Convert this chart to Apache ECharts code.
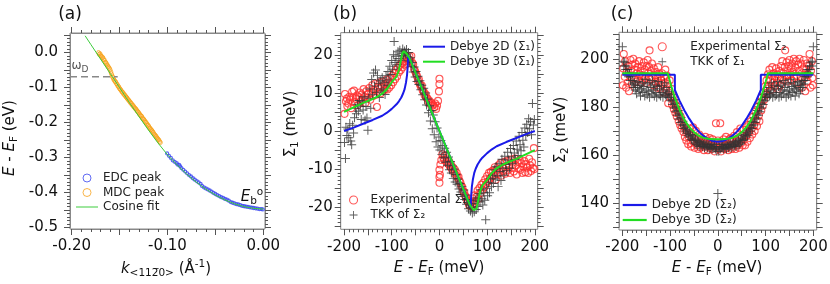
<!DOCTYPE html>
<html><head><meta charset="utf-8">
<script src="https://cdn.jsdelivr.net/npm/echarts/dist/echarts.min.js"></script>
<style>html,body{margin:0;padding:0;background:#fff}#c{width:830px;height:284px}</style>
</head><body><div id="c"></div>
<script>
// ---------- Panel (a) data ----------
const cosK = [-0.186,-0.18,-0.17,-0.16,-0.15,-0.14,-0.13,-0.12,-0.11,-0.10,-0.09,-0.08,-0.07,-0.06,-0.05,-0.04,-0.03,-0.02,-0.01,0.0];
const cosE = [0.047,0.022,-0.019,-0.060,-0.101,-0.143,-0.183,-0.222,-0.259,-0.293,-0.322,-0.348,-0.371,-0.391,-0.408,-0.422,-0.433,-0.441,-0.446,-0.448];
const omegaDLine = [[-0.2018,-0.07],[-0.152,-0.07]];
const mdcPeak = [[-0.1720,-0.001],[-0.1712,-0.006],[-0.1705,-0.004],[-0.1698,-0.010],[-0.1690,-0.011],[-0.1682,-0.016],[-0.1675,-0.015],[-0.1668,-0.021],[-0.1660,-0.022],[-0.1652,-0.028],[-0.1645,-0.029],[-0.1638,-0.033],[-0.1630,-0.036],[-0.1622,-0.040],[-0.1615,-0.043],[-0.1607,-0.046],[-0.1600,-0.050],[-0.1592,-0.056],[-0.1585,-0.062],[-0.1577,-0.068],[-0.1570,-0.072],[-0.1562,-0.077],[-0.1555,-0.080],[-0.1547,-0.084],[-0.1540,-0.085],[-0.1532,-0.090],[-0.1525,-0.092],[-0.1517,-0.097],[-0.1510,-0.098],[-0.1502,-0.103],[-0.1495,-0.105],[-0.1487,-0.108],[-0.1480,-0.111],[-0.1472,-0.114],[-0.1465,-0.115],[-0.1457,-0.120],[-0.1450,-0.121],[-0.1442,-0.124],[-0.1435,-0.127],[-0.1427,-0.129],[-0.1420,-0.132],[-0.1412,-0.135],[-0.1405,-0.137],[-0.1397,-0.140],[-0.1390,-0.142],[-0.1382,-0.146],[-0.1375,-0.147],[-0.1367,-0.151],[-0.1360,-0.152],[-0.1352,-0.156],[-0.1345,-0.158],[-0.1337,-0.161],[-0.1330,-0.162],[-0.1322,-0.166],[-0.1315,-0.168],[-0.1307,-0.171],[-0.1300,-0.173],[-0.1292,-0.177],[-0.1285,-0.179],[-0.1277,-0.182],[-0.1270,-0.183],[-0.1262,-0.188],[-0.1255,-0.190],[-0.1247,-0.192],[-0.1240,-0.195],[-0.1232,-0.199],[-0.1225,-0.200],[-0.1217,-0.204],[-0.1210,-0.207],[-0.1202,-0.209],[-0.1195,-0.212],[-0.1187,-0.216],[-0.1180,-0.218],[-0.1172,-0.221],[-0.1165,-0.223],[-0.1157,-0.226],[-0.1150,-0.229],[-0.1142,-0.233],[-0.1135,-0.235],[-0.1127,-0.238],[-0.1120,-0.240],[-0.1112,-0.244],[-0.1105,-0.246],[-0.1097,-0.249],[-0.1090,-0.251],[-0.1082,-0.255],[-0.1075,-0.258]];
const edcPeak = [[-0.1004,-0.289],[-0.0985,-0.296],[-0.0965,-0.302],[-0.0945,-0.309],[-0.0925,-0.313],[-0.0904,-0.317],[-0.0895,-0.321],[-0.0878,-0.322],[-0.0868,-0.326],[-0.0855,-0.331],[-0.0835,-0.336],[-0.0815,-0.341],[-0.0795,-0.346],[-0.0775,-0.351],[-0.0755,-0.355],[-0.0735,-0.360],[-0.0715,-0.364],[-0.0695,-0.368],[-0.0675,-0.372],[-0.0655,-0.376],[-0.064,-0.382],[-0.062,-0.386],[-0.060,-0.389],[-0.058,-0.392],[-0.056,-0.395],[-0.054,-0.398],[-0.052,-0.402],[-0.050,-0.405],[-0.048,-0.408],[-0.046,-0.411],[-0.044,-0.414],[-0.042,-0.416],[-0.040,-0.419],[-0.038,-0.421],[-0.036,-0.424],[-0.034,-0.428],[-0.032,-0.430],[-0.030,-0.432],[-0.028,-0.434],[-0.026,-0.435],[-0.024,-0.437],[-0.022,-0.439],[-0.020,-0.440],[-0.018,-0.441],[-0.016,-0.442],[-0.014,-0.443],[-0.012,-0.444],[-0.010,-0.445],[-0.008,-0.446],[-0.006,-0.447],[-0.004,-0.448],[-0.002,-0.448],[-0.0005,-0.449]];

// ---------- Panel (b) data ----------
const d2Dx = [-200,-180,-160,-140,-120,-110,-100,-90,-85,-80,-76,-73,-70,-68,-66.5,-65.5,65.5,66.5,68,70,73,76,80,85,90,100,110,120,140,160,180,200];
const d2Dy = [0,0.9,1.9,2.9,4.0,4.8,5.8,7.0,7.8,8.8,9.9,11.0,12.8,14.6,17.0,20.0,-20.0,-17.0,-14.6,-12.8,-11.0,-9.9,-8.8,-7.8,-7.0,-5.8,-4.8,-4.0,-2.9,-1.9,-0.9,0];
const d3Dx = [-200,-180,-160,-140,-130,-120,-110,-100,-90,-85,-80,-78,-75,-72,-69,-66,-63,63,66,69,72,75,78,80,85,90,100,110,120,130,140,160,180,200];
const d3Dy = [5.0,6.2,7.4,8.4,9.0,9.8,11.0,12.8,14.3,16.0,19.0,20.3,20.9,20.8,20.3,19.8,19.2,-19.2,-19.8,-20.3,-20.8,-20.9,-20.3,-19.0,-16.0,-14.3,-12.8,-11.0,-9.8,-9.0,-8.4,-7.4,-6.2,-5.0];
const expSigma1 = [[-199,4.5],[-198,9.7],[-196,7.8],[-194,8.5],[-193,6.5],[-191,7.2],[-189,9.0],[-187,8.2],[-185,6.0],[-183,10.3],[-181,8.8],[-179,10.6],[-177,7.5],[-175,8.4],[-173,9.3],[-171,6.8],[-169,8.9],[-167,10.1],[-165,7.7],[-163,9.6],[-161,8.3],[-159,11.0],[-157,9.0],[-155,7.4],[-153,10.5],[-151,8.6],[-149,9.8],[-147,11.3],[-145,8.2],[-143,10.0],[-141,12.0],[-139,9.2],[-137,10.8],[-135,12.4],[-133,9.5],[-131,6.3],[-129,11.5],[-127,10.3],[-125,12.8],[-123,9.9],[-121,11.6],[-119,13.0],[-117,10.6],[-115,12.2],[-113,11.0],[-111,13.5],[-109,10.9],[-107,12.7],[-105,11.4],[-103,13.9],[-101,12.0],[-99,14.5],[-97,12.8],[-95,15.2],[-93,13.6],[-91,16.0],[-89,14.3],[-87,16.6],[-85,15.4],[-83,17.3],[-81,16.0],[-79,17.8],[-77,16.7],[-75,18.2],[-73,17.4],[-71,18.9],[-69,17.6],[-67,19.3],[-65,18.3],[-63,19.6],[-61,18.5],[-59,19.7],[-57,17.9],[-55,17.5],[-53,16.2],[-51,15.7],[-49,15.0],[-47,14.4],[-45,13.2],[-43,13.5],[-41,12.3],[-39,11.6],[-37,11.9],[-35,10.6],[-33,10.3],[-31,9.4],[-29,9.6],[-27,8.7],[-25,8.5],[-23,7.6],[-21,7.9],[-19,7.0],[-17,7.4],[-15,6.6],[-13,6.9],[-11,6.2],[-9,7.2],[-7,5.8],[-5,6.6],[-3,7.9],[-1,10.4],[0,12.3],[0,13.7],[0,-10.2],[0,-12.1],[0,-13.6],[1,-11.5],[2,-8.8],[4,-7.6],[6,-6.1],[8,-6.9],[10,-7.5],[12,-6.4],[14,-8.0],[16,-7.2],[18,-8.6],[20,-7.9],[22,-9.3],[24,-8.7],[26,-10.0],[28,-9.5],[30,-10.7],[32,-10.1],[34,-11.5],[36,-11.0],[38,-12.3],[40,-12.0],[42,-13.1],[44,-13.6],[46,-14.4],[48,-14.8],[50,-15.8],[52,-16.0],[54,-17.0],[56,-17.4],[58,-18.3],[60,-18.6],[62,-19.4],[64,-19.7],[66,-18.8],[68,-19.9],[70,-17.7],[72,-19.2],[74,-16.9],[76,-18.4],[78,-17.2],[80,-15.6],[82,-17.8],[84,-15.0],[86,-16.3],[88,-14.1],[90,-15.5],[92,-13.6],[94,-14.8],[96,-12.7],[98,-13.9],[100,-11.8],[102,-13.2],[104,-11.0],[106,-12.5],[108,-10.7],[110,-12.0],[112,-10.4],[114,-11.6],[116,-9.5],[118,-12.8],[120,-10.1],[122,-11.3],[124,-9.0],[126,-10.8],[128,-8.4],[130,-11.7],[132,-9.6],[134,-10.5],[136,-8.1],[138,-11.2],[140,-9.3],[142,-7.8],[144,-10.3],[146,-8.9],[148,-11.0],[150,-7.5],[152,-9.7],[154,-8.3],[156,-10.6],[158,-7.2],[160,-9.1],[162,-11.4],[164,-8.0],[166,-9.9],[168,-7.6],[170,-10.2],[172,-8.5],[174,-11.0],[176,-9.4],[178,-7.9],[180,-10.8],[182,-8.7],[184,-9.6],[186,-11.0],[188,-7.3],[190,-9.0],[192,-10.5],[194,-8.2],[196,-9.7],[198,-4.5],[199,-10.0]];
const tkkSigma2 = [[-199,-3.0],[-197,-7.2],[-196,1.0],[-194,-1.2],[-192,0.5],[-190,-1.8],[-188,2.0],[-186,-2.6],[-184,-3.6],[-182,1.5],[-180,-0.5],[-178,3.5],[-176,6.0],[-174,4.5],[-172,7.0],[-170,5.2],[-168,8.0],[-166,6.5],[-164,3.0],[-162,7.8],[-160,5.5],[-158,9.0],[-156,2.8],[-154,6.4],[-152,3.4],[-150,0.2],[-148,8.6],[-146,11.0],[-144,6.0],[-142,13.5],[-140,9.5],[-138,15.2],[-136,11.8],[-134,16.0],[-132,10.2],[-130,14.6],[-128,12.5],[-126,8.8],[-124,13.2],[-122,11.0],[-120,14.0],[-118,10.5],[-116,12.8],[-114,9.6],[-112,14.5],[-110,12.0],[-108,15.6],[-106,13.4],[-104,17.0],[-102,14.8],[-100,18.5],[-98,16.2],[-96,20.0],[-95,23.5],[-93,18.0],[-91,19.6],[-89,17.4],[-87,20.8],[-85,19.0],[-83,21.2],[-81,18.6],[-79,20.4],[-77,21.5],[-75,19.8],[-73,21.0],[-71,20.2],[-69,21.4],[-67,19.5],[-65,20.6],[-63,18.4],[-61,19.2],[-59,17.0],[-57,18.0],[-55,15.5],[-53,16.8],[-51,14.2],[-49,15.6],[-47,13.0],[-45,14.4],[-43,12.2],[-41,13.2],[-39,10.8],[-37,12.0],[-35,9.5],[-33,11.2],[-31,8.2],[-29,10.0],[-27,6.8],[-25,8.4],[-23,4.8],[-21,6.6],[-19,2.6],[-17,5.4],[-15,0.6],[-13,4.2],[-11,-1.0],[-9,2.4],[-7,-2.8],[-5,0.8],[-3,-4.2],[-1,-1.6],[1,-5.0],[3,-2.5],[5,-6.2],[7,-3.8],[9,-7.0],[11,-4.5],[13,-8.2],[15,-5.6],[17,-9.0],[19,-6.8],[21,-10.2],[23,-8.0],[25,-11.0],[27,-9.2],[29,-12.5],[31,-10.0],[33,-13.4],[35,-11.4],[37,-14.0],[39,-12.6],[41,-15.2],[43,-13.8],[45,-16.0],[47,-14.6],[49,-17.2],[51,-15.5],[53,-18.0],[55,-16.8],[57,-19.2],[59,-18.0],[61,-20.4],[63,-19.4],[65,-21.0],[67,-20.0],[69,-21.5],[71,-19.0],[73,-21.2],[75,-18.2],[77,-20.6],[79,-17.6],[81,-19.8],[83,-16.5],[85,-18.6],[87,-15.4],[89,-17.8],[91,-19.4],[93,-16.2],[95,-18.2],[97,-23.3],[99,-15.0],[101,-17.0],[103,-13.6],[105,-16.2],[107,-12.4],[109,-14.6],[111,-11.6],[113,-13.8],[115,-10.2],[117,-12.6],[119,-9.4],[121,-11.8],[123,-14.6],[125,-8.6],[127,-10.6],[129,-13.0],[131,-7.4],[133,-9.8],[135,-11.6],[137,-6.6],[139,-8.8],[141,-10.4],[143,-5.6],[145,-7.6],[147,-9.8],[149,-4.6],[151,-6.8],[153,-8.6],[155,-3.8],[157,-5.8],[159,-7.4],[161,-2.6],[163,-4.8],[165,-6.4],[167,-1.4],[169,-3.6],[171,-5.2],[173,-0.4],[175,-2.4],[177,-4.2],[179,0.8],[181,-1.2],[183,1.8],[185,-0.4],[187,3.2],[189,0.6],[191,2.4],[193,-1.0],[195,7.2],[197,1.6],[199,3.0]];

// ---------- Panel (c) data ----------
const s2Dx = [-200,-90,-90,-80,-70,-60,-50,-40,-30,-20,-10,0,10,20,30,40,50,60,70,80,90,90,200];
const s2Dy = [193.3,193.3,187,182.5,178.5,175.1,172.1,169.7,167.9,166.6,165.8,165.5,165.8,166.6,167.9,169.7,172.1,175.1,178.5,182.5,187,193.3,193.3];
const s3Dx = [-200,-105,-100,-95,-90,-85,-80,-70,-60,-50,-40,-30,-20,-10,0,10,20,30,40,50,60,70,80,85,90,95,100,105,200];
const s3Dy = [194,194,190.3,186.9,183.8,181.1,178.7,174.6,171.6,169.5,168.0,167.1,166.7,166.5,166.5,166.5,166.7,167.1,168.0,169.5,171.6,174.6,178.7,181.1,183.8,186.9,190.3,194,194];
const expSigma2 = [[-199,189],[-198,196],[-197,202],[-195,192.5],[-194,199],[-192,188],[-191,194.5],[-189,190],[-188,197],[-186,186.5],[-185,193],[-183,199.5],[-182,195],[-180,189.5],[-179,197.5],[-177,200],[-176,192],[-174,195.5],[-173,198],[-171,190.5],[-170,194],[-168,196.5],[-167,191.5],[-165,199],[-164,193.5],[-162,195],[-161,190],[-159,197],[-158,193],[-156,191],[-155,198.5],[-153,195.5],[-152,192],[-150,190],[-149,197],[-147,199.5],[-146,194],[-144,196.5],[-143,203.5],[-141,191.5],[-140,195],[-138,198],[-137,192.5],[-135,189],[-134,196],[-132,193],[-131,190.5],[-129,194.5],[-128,188],[-126,192],[-125,196.5],[-123,190],[-122,193.5],[-120,187.5],[-119,191],[-117,194],[-116,189.5],[-114,186],[-113,192.5],[-111,190],[-110,195.5],[-108,187],[-107,193.0],[-105,189.5],[-104,181.5],[-102,186],[-101,191],[-99,184],[-97,187.5],[-96,181],[-94,184.5],[-92,179],[-91,182],[-89,177.5],[-87,180.5],[-86,176],[-84,178.5],[-82,174],[-81,177],[-79,172.5],[-77,175.5],[-76,171],[-74,173.5],[-72,169.5],[-71,172],[-69,167.5],[-67,170.5],[-66,166],[-64,169],[-62,164.5],[-61,167.5],[-59,171],[-57,165],[-56,163.5],[-54,168],[-52,171.5],[-51,165.5],[-49,163],[-47,167],[-46,170],[-44,164],[-42,166.5],[-41,162.5],[-39,168.5],[-37,165],[-36,163],[-34,167],[-32,164],[-31,166],[-29,162],[-27,165.5],[-26,167.5],[-24,163.5],[-22,166],[-21,162],[-19,164.5],[-17,167],[-16,163],[-14,165.5],[-12,162.5],[-11,166.5],[-9,164],[-7,161.5],[-6,165],[-4,173.2],[-2,163.5],[0,166],[2,162.5],[4,164.5],[5,173.2],[7,161.5],[9,165.5],[10,163],[12,166.5],[14,162.5],[15,164],[17,167.5],[19,163],[20,165],[22,162],[24,166.5],[25,164],[27,167],[29,162.5],[30,165.5],[32,163.5],[34,168],[35,164.5],[37,162.5],[39,166],[40,169.5],[42,164],[44,167],[45,163],[47,171],[49,165],[50,168],[52,164],[54,170.5],[55,166.5],[57,164],[59,171.5],[60,168],[62,165.5],[64,172.5],[65,169.5],[67,167],[69,174],[71,171],[72,168.5],[74,176],[76,172.5],[77,170],[79,178],[81,174.5],[82,172],[84,180],[86,176.5],[87,174],[89,182],[91,178.5],[92,184],[94,180.5],[96,186],[97,183],[99,188.5],[101,185],[102,191],[104,187.5],[105,193.5],[107,189],[108,195.5],[110,191],[111,187],[113,193],[114,196.5],[116,190],[117,194],[119,188.5],[120,192.5],[122,196],[123,190],[125,193.5],[126,187.5],[128,191.5],[129,195],[131,189],[132,197],[134,192.5],[135,199],[137,194],[138,191],[140,196.5],[141,203.5],[143,193],[144,198.5],[146,195],[147,190.5],[149,197],[150,199.5],[152,193.5],[153,196],[155,191],[156,198],[158,194.5],[159,200],[161,192],[162,196.5],[164,199],[165,193],[167,190],[168,197.5],[170,195],[171,200],[173,192.5],[174,198],[176,194],[177,188],[179,196],[180,199.5],[182,192],[183,186.5],[185,195.5],[186,198],[188,190.5],[189,193.5],[191,197],[192,202],[194,188],[195,195],[197,199],[198,192],[199,189]];
const tkkSigma1 = [[-200,205],[-198,199],[-197,197],[-195,198.5],[-193,195.5],[-192,197],[-190,194],[-188,195.5],[-187,192.5],[-185,194],[-183,191],[-182,192.5],[-180,189.5],[-178,191],[-177,188],[-175,190],[-173,187],[-172,189],[-170,185.5],[-168,188],[-167,190.5],[-165,186.5],[-163,189],[-162,184.5],[-160,187.5],[-158,190],[-157,186],[-155,188.5],[-153,184.5],[-152,191.5],[-150,187],[-148,185],[-147,189.5],[-145,186.5],[-143,184],[-142,190],[-140,188],[-138,185.5],[-137,191],[-135,187],[-133,184.5],[-132,189],[-130,186],[-128,184],[-127,188.5],[-125,190.5],[-123,185],[-122,187.5],[-120,184.5],[-118,189],[-117,186],[-115,184],[-113,187],[-112,190],[-110,185],[-108,184.5],[-107,188],[-105,185.5],[-103,184],[-102,186.5],[-100,184],[-98,182.5],[-97,185],[-95,181],[-93,183],[-92,179.5],[-90,181.5],[-88,178],[-87,180],[-85,176.5],[-83,178.5],[-82,175],[-80,177],[-78,173.5],[-77,175.5],[-75,172.5],[-73,174],[-72,171],[-70,172.5],[-68,170],[-67,171.5],[-65,169],[-63,170.5],[-62,168],[-60,169.5],[-58,167.5],[-57,168.5],[-55,166.5],[-53,168],[-52,166],[-50,167],[-48,165],[-47,166.5],[-45,164.5],[-43,166],[-42,164],[-40,165.5],[-38,163.5],[-37,165],[-35,164],[-33,165.5],[-32,163.5],[-30,164.5],[-28,163],[-27,165],[-25,163.5],[-23,164.5],[-22,163],[-20,164],[-18,162.5],[-17,164],[-15,163],[-13,164.5],[-12,162.5],[-10,163.5],[-8,163],[-7,164.5],[-5,162.5],[-3,163.5],[-2,161.5],[0,144],[2,161.5],[3,163.5],[5,162.5],[7,164.5],[8,163],[10,163.5],[12,162.5],[13,164.5],[15,163],[17,164],[18,162.5],[20,164],[22,163],[23,164.5],[25,163.5],[27,165],[28,163],[30,164.5],[32,163.5],[33,165.5],[35,164],[37,165],[38,163.5],[40,165.5],[42,164],[43,166],[45,164.5],[47,166.5],[48,165],[50,167],[52,166],[53,168],[55,166.5],[57,168.5],[58,167.5],[60,169.5],[62,168],[63,170.5],[65,169],[67,171.5],[68,170],[70,172.5],[72,171],[73,174],[75,172.5],[77,175.5],[78,173.5],[80,177],[82,175],[83,178.5],[85,176.5],[87,180],[88,178],[90,181.5],[92,179.5],[93,183],[95,181],[97,185],[98,182.5],[100,184],[102,186.5],[103,184],[105,185.5],[107,188],[108,184.5],[110,185],[112,190],[113,187],[115,184],[117,186],[118,189],[120,184.5],[122,187.5],[123,185],[125,190.5],[127,188.5],[128,184],[130,186],[132,189],[133,184.5],[135,187],[137,191],[138,185.5],[140,188],[142,190],[143,184],[145,186.5],[147,189.5],[148,185],[150,187],[152,191.5],[153,184.5],[155,188.5],[157,186],[158,190],[160,187.5],[162,184.5],[163,189],[165,186.5],[167,190.5],[168,188],[170,185.5],[172,189],[173,187],[175,190],[177,188],[178,191],[180,189.5],[182,192.5],[183,191],[185,194],[187,192.5],[188,195.5],[190,194],[192,197],[193,195.5],[195,198.5],[197,197],[198,199],[200,205]];

// ---------- layout / style ----------
const FONT = 'DejaVu Sans';
const TICK = '#555';
const FRAME = '#888';
const BLUE = '#1a1ae8', GREEN = '#22dd22', RED = '#ff2e2e', BLACK = '#333';
const EDCBLUE = '#3a46f0', ORANGE = '#f7a31c', COSGREEN = '#3ccc3c';
const PLUS = 'path://M4.45,0h1.1v4.45h4.45v1.1h-4.45v4.45h-1.1v-4.45h-4.45v-1.1h4.45z';
const LINE2 = 'path://M0,0h22v2h-22z', LINE1 = 'path://M0,0h22v1h-22z';

const zip = (a, b) => a.map((v, i) => [v, b[i]]);
const fix = (v, d) => (Math.abs(v) < 1e-9 ? 0 : v).toFixed(d);
const isMult = (v, m) => Math.abs(v / m - Math.round(v / m)) < 1e-6;

const panels = [
  {box:{l:70,t:33,w:195,h:196}, x:[-0.2018,0.0018], y:[-0.505,0.055],
   xt:{major:0.05,minor:0.01,label:0.1,fmt:v=>fix(v,2)}, yt:{major:0.05,minor:0.01,label:0.1,fmt:v=>fix(v,1)}, xm:10, ym:12},
  {box:{l:340.7,t:32.7,w:197,h:196.6}, x:[-207,206], y:[-25.8,25.8],
   xt:{major:50,minor:10,label:100,fmt:v=>fix(v,0)}, yt:{major:5,minor:1,label:10,fmt:v=>fix(v,0)}, xm:10, ym:8},
  {box:{l:619,t:32.3,w:197.7,h:197.7}, x:[-207,207], y:[128.8,211],
   xt:{major:50,minor:10,label:100,fmt:v=>fix(v,0)}, yt:{major:10,minor:2,label:20,fmt:v=>fix(v,0)}, xm:10, ym:10}
];

const grids = [], xAxes = [], yAxes = [];
const addGrid = g => { g.outerBoundsMode = 'none'; g.containLabel = false; grids.push(g); return grids.length - 1; };
const labelStyle = (m, show, fmt, lab) => show ? {show:true, margin:m, fontFamily:FONT, fontSize:15, color:'#111',
   formatter: v => isMult(v, lab) ? fmt(v) : ''} : {show:false};

panels.forEach(p => {
  const b = p.box;
  p.gi = addGrid({left:b.l, top:b.t, width:b.w, height:b.h, show:true, borderColor:FRAME, borderWidth:1, backgroundColor:'transparent'});
  xAxes.push({gridIndex:p.gi, type:'value', min:p.x[0], max:p.x[1], show:false});
  p.xai = xAxes.length - 1;
  yAxes.push({gridIndex:p.gi, type:'value', min:p.y[0], max:p.y[1], show:false});
  p.yai = yAxes.length - 1;
  [['major',6,true],['minor',3,false]].forEach(([lvl,len,lab]) => {
    const tick = {show:true, length:len, inside:false, lineStyle:{color:TICK, width:1}};
    const line = {show:true, onZero:false, lineStyle:{color:FRAME, width:1}};
    // x ticks
    let iv = p.xt[lvl];
    let f = Math.round(Math.ceil(p.x[0]/iv - 1e-6) * iv * 1e6) / 1e6, l = Math.round(Math.floor(p.x[1]/iv + 1e-6) * iv * 1e6) / 1e6;
    let s = (p.x[1]-p.x[0]);
    let p0 = b.l + (f - p.x[0]) / s * b.w, p1 = b.l + (l - p.x[0]) / s * b.w;
    let gi = addGrid({left:p0, top:b.t, width:p1-p0, height:b.h});
    ['bottom','top'].forEach(pos => xAxes.push({gridIndex:gi, type:'value', position:pos, min:f, max:l, interval:iv,
       axisLine:line, splitLine:{show:false}, axisTick:tick,
       axisLabel: labelStyle(p.xm, lab && pos === 'bottom', p.xt.fmt, p.xt.label)}));
    yAxes.push({gridIndex:gi, type:'value', show:false, min:0, max:1});
    // y ticks
    iv = p.yt[lvl];
    f = Math.round(Math.ceil(p.y[0]/iv - 1e-6) * iv * 1e6) / 1e6; l = Math.round(Math.floor(p.y[1]/iv + 1e-6) * iv * 1e6) / 1e6;
    s = (p.y[1]-p.y[0]);
    p0 = b.t + (p.y[1] - l) / s * b.h; p1 = b.t + (p.y[1] - f) / s * b.h;
    gi = addGrid({left:b.l, top:p0, width:b.w, height:p1-p0});
    ['left','right'].forEach(pos => yAxes.push({gridIndex:gi, type:'value', position:pos, min:f, max:l, interval:iv,
       axisLine:line, splitLine:{show:false}, axisTick:tick,
       axisLabel: labelStyle(p.ym, lab && pos === 'left', p.yt.fmt, p.yt.label)}));
    xAxes.push({gridIndex:gi, type:'value', show:false, min:0, max:1});
  });
});

const A = panels[0], B = panels[1], C = panels[2];
const hollow = (c, w) => ({color:'rgba(0,0,0,0)', borderColor:c, borderWidth:w || 1});
const sc = (name, p, data, symbol, size, style) => ({name, type:'scatter', xAxisIndex:p.xai, yAxisIndex:p.yai, data,
   symbol, symbolSize:size, itemStyle:style, silent:true});
const ln = (name, p, data, color, width, extra) => Object.assign({name, type:'line', xAxisIndex:p.xai, yAxisIndex:p.yai, data,
   symbol:'none', showSymbol:false, smooth:false, lineStyle:{color, width}, itemStyle:{color}, silent:true}, extra || {});

const series = [
  ln('Cosine fit', A, zip(cosK, cosE), COSGREEN, 1),
  ln('wD', A, omegaDLine, '#888', 1.5, {lineStyle:{color:'#888', width:1.5, type:[7,4]}}),
  sc('MDC peak', A, mdcPeak, 'circle', 4, hollow(ORANGE)),
  sc('EDC peak', A, edcPeak, 'circle', 3, hollow(EDCBLUE, 1.3)),
  sc('Experimental Σ₁', B, expSigma1, 'circle', 7, hollow(RED, 1.1)),
  sc('TKK of Σ₂', B, tkkSigma2, PLUS, 9, {color:BLACK}),
  ln('Debye 2D (Σ₁)', B, zip(d2Dx, d2Dy), BLUE, 2),
  ln('Debye 3D (Σ₁)', B, zip(d3Dx, d3Dy), GREEN, 2),
  sc('Experimental Σ₂', C, expSigma2, 'circle', 7, hollow(RED, 1.1)),
  sc('TKK of Σ₁', C, tkkSigma1, PLUS, 9, {color:BLACK}),
  ln('Debye 2D (Σ₂)', C, zip(s2Dx, s2Dy), BLUE, 2),
  ln('Debye 3D (Σ₂)', C, zip(s3Dx, s3Dy), GREEN, 2)
];

const lg = (data, left, top, iw, gap) => ({data, left, top, orient:'vertical', itemWidth:iw, itemHeight:8, itemGap:gap,
   selectedMode:false, padding:0, textStyle:{fontFamily:FONT, fontSize:12, color:'#222'}});
const legends = [
  lg([{name:'EDC peak', icon:'circle', itemStyle:hollow(EDCBLUE)}, {name:'MDC peak', icon:'circle', itemStyle:hollow(ORANGE)},
      {name:'Cosine fit', icon:LINE1, itemStyle:{color:COSGREEN}}], 76, 172, 22, 2.5),
  lg([{name:'Debye 2D (Σ₁)', icon:LINE2, itemStyle:{color:BLUE}}, {name:'Debye 3D (Σ₁)', icon:LINE2, itemStyle:{color:GREEN}}], 423, 40.7, 22, 3),
  lg([{name:'Experimental Σ₁', icon:'circle', itemStyle:hollow(RED, 1.1)}, {name:'TKK of Σ₂', icon:PLUS, itemStyle:{color:BLACK}}], 349, 194, 24, 3),
  lg([{name:'Experimental Σ₂', icon:'circle', itemStyle:hollow(RED, 1.1)}, {name:'TKK of Σ₁', icon:PLUS, itemStyle:{color:BLACK}}], 657.7, 40.7, 46, 3),
  lg([{name:'Debye 2D (Σ₂)', icon:LINE2, itemStyle:{color:BLUE}}, {name:'Debye 3D (Σ₂)', icon:LINE2, itemStyle:{color:GREEN}}], 622.7, 199, 24, 3)
];

const rich = {
  n:{fontFamily:FONT, fontSize:15, lineHeight:20, fill:'#111'},
  i:{fontFamily:FONT, fontSize:15, lineHeight:20, fontStyle:'italic', fill:'#111'},
  sub:{fontFamily:FONT, fontSize:10.5, lineHeight:9, verticalAlign:'bottom', fill:'#111'},
  sup:{fontFamily:FONT, fontSize:10.5, lineHeight:9, verticalAlign:'top', fill:'#111'}
};
const T = (text, x, y, rot, extra) => ({type:'text', x, y, rotation:rot || 0, silent:true,
  style:Object.assign({text, rich, align:'center', verticalAlign:'middle', font:'15px ' + FONT, fill:'#111'}, extra || {})});
const graphic = [
  T('(a)', 70, 15, 0, {font:'17px ' + FONT}),
  T('(b)', 345, 15, 0, {font:'17px ' + FONT}),
  T('(c)', 622, 15, 0, {font:'17px ' + FONT}),
  T('{i|E}{n| - }{i|E}{sub|F}{n| (eV)}', 10, 138, Math.PI/2),
  T('{i|k}{sub|<112\u03050>}{n| (Å}{sup|-1}{n|)}', 166, 269),
  T('{i|E}{n| - }{i|E}{sub|F}{n| (meV)}', 439, 268),
  T('{n|Σ}{sub|1}{n| (meV)}', 291, 124, Math.PI/2),
  T('{i|E}{n| - }{i|E}{sub|F}{n| (meV)}', 717, 268),
  T('{n|Σ}{sub|2}{n| (meV)}', 561, 130, Math.PI/2),
  T('{i|E}{sub|b}{sup|o}', 252, 197, 0),
  T('{w|ω}{wd|D}', 80, 66, 0, {rich:{w:{fontFamily:FONT, fontSize:12, lineHeight:16, fill:'#555'}, wd:{fontFamily:FONT, fontSize:9, lineHeight:8, verticalAlign:'bottom', fill:'#555'}}})
];

const chart = echarts.init(document.getElementById('c'), null, {renderer:'canvas'});
chart.setOption({animation:false, backgroundColor:'#fff', grid:grids, xAxis:xAxes, yAxis:yAxes, series, legend:legends, graphic});
</script></body></html>
